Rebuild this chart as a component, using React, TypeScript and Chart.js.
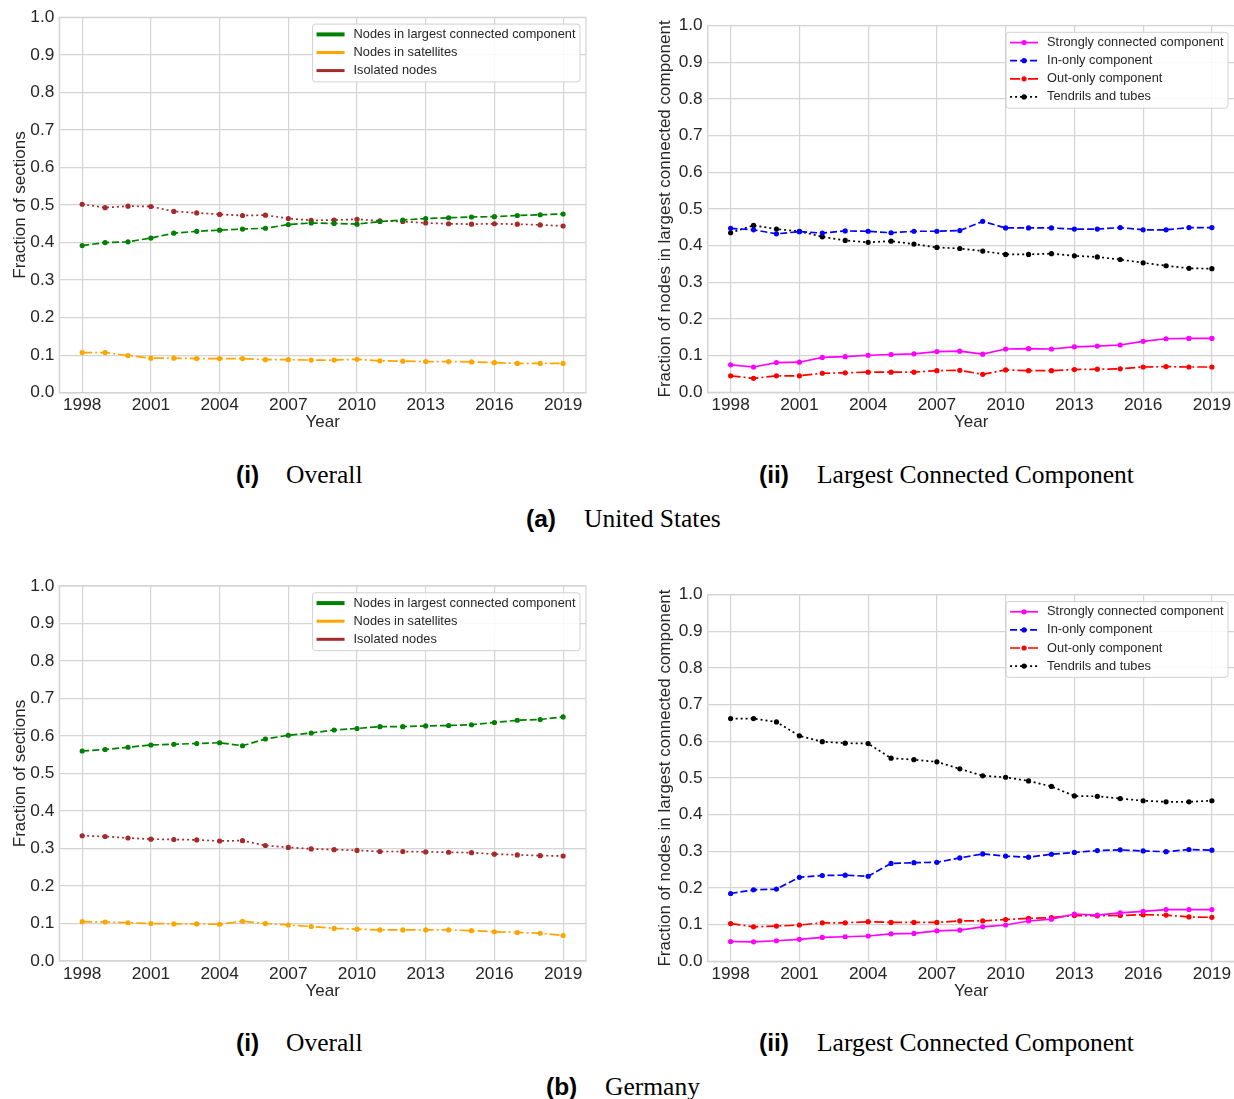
import React, { useEffect, useRef } from "react";
import { Chart, registerables } from "chart.js";

Chart.register(...registerables);

// ---------------- data ----------------
const years = [1998, 1999, 2000, 2001, 2002, 2003, 2004, 2005, 2006, 2007, 2008, 2009, 2010, 2011, 2012, 2013, 2014, 2015, 2016, 2017, 2018, 2019];
const xTickYears = [1998, 2001, 2004, 2007, 2010, 2013, 2016, 2019];
const yTickValues = [0, 0.1, 0.2, 0.3, 0.4, 0.5, 0.6, 0.7, 0.8, 0.9, 1.0];

const overallLabels = ["Nodes in largest connected component", "Nodes in satellites", "Isolated nodes"];
const lccLabels = ["Strongly connected component", "In-only component", "Out-only component", "Tendrils and tubes"];

// United States
const usLargestComponent = [0.392, 0.400, 0.402, 0.412, 0.425, 0.430, 0.433, 0.436, 0.438, 0.448, 0.452, 0.451, 0.449, 0.456, 0.460, 0.464, 0.466, 0.468, 0.469, 0.472, 0.474, 0.476];
const usSatellites = [0.107, 0.107, 0.099, 0.092, 0.092, 0.091, 0.091, 0.091, 0.088, 0.088, 0.087, 0.087, 0.089, 0.085, 0.084, 0.083, 0.083, 0.082, 0.080, 0.078, 0.078, 0.078];
const usIsolated = [0.502, 0.493, 0.497, 0.496, 0.483, 0.479, 0.475, 0.472, 0.473, 0.464, 0.459, 0.460, 0.462, 0.458, 0.456, 0.452, 0.450, 0.449, 0.450, 0.449, 0.447, 0.444];
const usStrong = [0.075, 0.069, 0.081, 0.082, 0.095, 0.097, 0.101, 0.103, 0.105, 0.111, 0.112, 0.104, 0.118, 0.119, 0.118, 0.124, 0.126, 0.129, 0.139, 0.146, 0.147, 0.147];
const usInOnly = [0.447, 0.443, 0.432, 0.438, 0.434, 0.440, 0.439, 0.435, 0.439, 0.439, 0.441, 0.466, 0.448, 0.448, 0.448, 0.445, 0.445, 0.449, 0.443, 0.443, 0.449, 0.449];
const usOutOnly = [0.045, 0.038, 0.045, 0.045, 0.052, 0.053, 0.055, 0.055, 0.055, 0.059, 0.060, 0.049, 0.061, 0.059, 0.059, 0.062, 0.063, 0.064, 0.069, 0.070, 0.069, 0.069];
const usTendrils = [0.435, 0.455, 0.445, 0.439, 0.424, 0.414, 0.409, 0.412, 0.404, 0.395, 0.392, 0.385, 0.376, 0.376, 0.378, 0.372, 0.369, 0.362, 0.353, 0.345, 0.338, 0.337];

// Germany
const deLargestComponent = [0.560, 0.564, 0.570, 0.576, 0.578, 0.580, 0.582, 0.574, 0.592, 0.602, 0.608, 0.616, 0.620, 0.625, 0.625, 0.627, 0.628, 0.630, 0.636, 0.642, 0.644, 0.651];
const deSatellites = [0.105, 0.104, 0.102, 0.100, 0.099, 0.099, 0.098, 0.106, 0.100, 0.096, 0.092, 0.087, 0.085, 0.083, 0.083, 0.083, 0.083, 0.081, 0.078, 0.076, 0.074, 0.068];
const deIsolated = [0.334, 0.332, 0.328, 0.325, 0.324, 0.323, 0.320, 0.321, 0.308, 0.303, 0.299, 0.297, 0.295, 0.292, 0.292, 0.291, 0.290, 0.289, 0.285, 0.283, 0.281, 0.280];
const deStrong = [0.054, 0.053, 0.056, 0.060, 0.065, 0.067, 0.069, 0.075, 0.076, 0.083, 0.085, 0.094, 0.099, 0.110, 0.115, 0.129, 0.126, 0.132, 0.136, 0.141, 0.141, 0.141];
const deInOnly = [0.185, 0.195, 0.197, 0.229, 0.234, 0.235, 0.232, 0.267, 0.269, 0.270, 0.282, 0.293, 0.287, 0.284, 0.292, 0.297, 0.302, 0.304, 0.301, 0.299, 0.305, 0.303];
const deOutOnly = [0.103, 0.094, 0.096, 0.099, 0.105, 0.105, 0.108, 0.106, 0.106, 0.106, 0.110, 0.110, 0.114, 0.117, 0.119, 0.125, 0.124, 0.125, 0.127, 0.126, 0.121, 0.120];
const deTendrils = [0.662, 0.662, 0.653, 0.615, 0.599, 0.595, 0.594, 0.554, 0.550, 0.544, 0.525, 0.506, 0.502, 0.492, 0.477, 0.451, 0.450, 0.444, 0.438, 0.435, 0.435, 0.438];

// ---------------- styles ----------------
const SANS = '"Liberation Sans", Arial, Helvetica, sans-serif';
const SERIF = '"Liberation Serif", "Times New Roman", Times, serif';
const TEXT = "#262626";
const GRID = "#d4d4d4";
const SOLID: number[] = [];
const DASHED = [7, 3];
const DASHDOT = [10, 3, 2, 3];
const DOTTED = [2, 3];

const overallStyle = [
  { color: "#008000", dash: DASHED, legendWidth: 4 },
  { color: "#ffa500", dash: DASHDOT, legendWidth: 3 },
  { color: "#a52a2a", dash: DOTTED, legendWidth: 3 },
];
const lccStyle = [
  { color: "#ff00ff", dash: SOLID },
  { color: "#0000ff", dash: DASHED },
  { color: "#ff0000", dash: DASHDOT },
  { color: "#000000", dash: DOTTED },
];

Chart.defaults.font.family = SANS;

const framePlugin = {
  id: "mplFrame",
  afterDatasetsDraw(chart: any) {
    const { ctx, chartArea } = chart;
    ctx.save();
    ctx.strokeStyle = GRID;
    ctx.lineWidth = 1.2;
    ctx.setLineDash([]);
    ctx.strokeRect(chartArea.left, chartArea.top, chartArea.right - chartArea.left, chartArea.bottom - chartArea.top);
    ctx.restore();
  },
};

const legendPlugin = {
  id: "mplLegend",
  afterDraw(chart: any, _args: any, opts: any) {
    const { ctx, chartArea } = chart;
    const datasets = chart.data.datasets;
    const fontSize = 12.8;
    ctx.save();
    ctx.font = `${fontSize}px ${SANS}`;
    let textW = 0;
    datasets.forEach((d: any) => {
      textW = Math.max(textW, ctx.measureText(d.label).width);
    });
    const rowH = 18.1;
    const boxW = 41 + textW + 4.5;
    const boxH = 10.3 + rowH * (datasets.length - 1) + 11.3;
    const right = chartArea.right - opts.rightGap;
    const left = right - boxW;
    const top = chartArea.top + 6.8;
    ctx.beginPath();
    if ((ctx as any).roundRect) (ctx as any).roundRect(left, top, boxW, boxH, 3);
    else ctx.rect(left, top, boxW, boxH);
    ctx.fillStyle = "rgba(255,255,255,0.85)";
    ctx.fill();
    ctx.strokeStyle = "rgba(204,204,204,0.9)";
    ctx.lineWidth = 1;
    ctx.stroke();
    datasets.forEach((d: any, i: number) => {
      const cy = top + 10.3 + rowH * i;
      ctx.save();
      ctx.strokeStyle = d.borderColor;
      if (opts.thick) {
        ctx.lineWidth = d.legendWidth;
        ctx.setLineDash([]);
      } else {
        ctx.lineWidth = d.borderWidth;
        ctx.setLineDash(d.borderDash || []);
      }
      ctx.beginPath();
      ctx.moveTo(left + 4, cy);
      ctx.lineTo(left + 32, cy);
      ctx.stroke();
      if (!opts.thick) {
        ctx.fillStyle = d.borderColor;
        ctx.beginPath();
        ctx.arc(left + 18, cy, d.pointRadius, 0, Math.PI * 2);
        ctx.fill();
      }
      ctx.restore();
      ctx.fillStyle = TEXT;
      ctx.textBaseline = "middle";
      ctx.textAlign = "left";
      ctx.fillText(d.label, left + 41, cy);
    });
    ctx.restore();
  },
};

type Area = { left: number; top: number; right: number; bottom: number };

function LinePanel(props: {
  x: number; y: number; w: number; h: number; area: Area;
  labels: string[]; series: number[][]; styles: any[];
  yTitle: string; yTitlePad: number; thickLegend: boolean; legendGap: number;
}) {
  const ref = useRef<HTMLCanvasElement>(null);
  useEffect(() => {
    const { w, h, area, labels, series, styles } = props;
    const datasets = series.map((vals, si) => ({
      label: labels[si],
      data: years.map((yr, i) => ({ x: yr, y: vals[i] })),
      borderColor: styles[si].color,
      backgroundColor: styles[si].color,
      pointBackgroundColor: styles[si].color,
      borderWidth: 1.7,
      borderDash: styles[si].dash,
      pointRadius: 2.6,
      pointBorderWidth: 0,
      pointHoverRadius: 2.6,
      tension: 0,
      fill: false,
      legendWidth: styles[si].legendWidth,
    }));
    const chart = new Chart(ref.current as HTMLCanvasElement, {
      type: "line",
      data: { datasets } as any,
      options: {
        animation: false,
        responsive: false,
        devicePixelRatio: 1,
        events: [],
        layout: { padding: { left: 0, top: area.top, right: w - area.right, bottom: 0 } },
        plugins: {
          legend: { display: false },
          tooltip: { enabled: false },
          mplLegend: { thick: props.thickLegend, rightGap: props.legendGap },
        } as any,
        scales: {
          x: {
            type: "linear",
            min: 1997,
            max: 2020,
            afterBuildTicks: (s: any) => { s.ticks = xTickYears.map((v) => ({ value: v })); },
            afterFit: (s: any) => { s.height = h - area.bottom; },
            ticks: { color: TEXT, font: { size: 17.3 }, padding: 2.5, maxRotation: 0, autoSkip: false, callback: (v: any) => String(v) },
            grid: { color: GRID, lineWidth: 1.2, drawTicks: false },
            border: { color: GRID, width: 1.2 },
            title: { display: true, text: "Year", color: TEXT, font: { size: 17 }, padding: { top: 0, bottom: 7.8 } },
          },
          y: {
            type: "linear",
            min: 0,
            max: 1,
            afterBuildTicks: (s: any) => { s.ticks = yTickValues.map((v) => ({ value: v })); },
            afterFit: (s: any) => { s.width = area.left; },
            ticks: { color: TEXT, font: { size: 17.3 }, padding: 5, callback: (v: any) => Number(v).toFixed(1) },
            grid: { color: GRID, lineWidth: 1.2, drawTicks: false },
            border: { color: GRID, width: 1.2 },
            title: { display: true, text: props.yTitle, color: TEXT, font: { size: 17 }, padding: { top: props.yTitlePad, bottom: 0 } },
          },
        },
      } as any,
      plugins: [framePlugin, legendPlugin],
    });
    return () => chart.destroy();
  }, []);
  return (
    <canvas
      ref={ref}
      width={props.w}
      height={props.h}
      style={{ position: "absolute", left: props.x, top: props.y, width: props.w, height: props.h }}
    />
  );
}

function Cap(props: { x: number; baseline: number; text: string; bold?: boolean }) {
  const size = props.bold ? 24.5 : 25.5;
  const top = props.baseline - (props.bold ? 20.7 : 21.4);
  return (
    <div
      style={{
        position: "absolute",
        left: props.x,
        top,
        fontFamily: props.bold ? SANS : SERIF,
        fontWeight: props.bold ? 700 : 400,
        fontSize: size,
        lineHeight: 1,
        whiteSpace: "nowrap",
        color: "#000",
      }}
    >
      {props.text}
    </div>
  );
}

export default function App() {
  const areaI = { left: 59.3, top: 17.3, right: 586, bottom: 392.7 };
  const areaII = { left: 67.7, top: 25.5, right: 594.8, bottom: 392.3 };
  const areaI2 = { left: 59.3, top: 17, right: 586, bottom: 392 };
  const areaII2 = { left: 67.7, top: 25.7, right: 594.8, bottom: 392.3 };
  const yTitleI = "Fraction of sections";
  const yTitleII = "Fraction of nodes in largest connected component";
  return (
    <div style={{ position: "absolute", left: 0, top: 0, width: 1234, height: 1099, overflow: "hidden", background: "#fff" }}>
      <LinePanel x={0} y={0} w={600} h={440} area={areaI} labels={overallLabels}
        series={[usLargestComponent, usSatellites, usIsolated]} styles={overallStyle}
        yTitle={yTitleI} yTitlePad={10.5} thickLegend={true} legendGap={6} />
      <LinePanel x={640} y={0} w={600} h={440} area={areaII} labels={lccLabels}
        series={[usStrong, usInOnly, usOutOnly, usTendrils]} styles={lccStyle}
        yTitle={yTitleII} yTitlePad={15} thickLegend={false} legendGap={6.8} />
      <LinePanel x={0} y={569} w={600} h={440} area={areaI2} labels={overallLabels}
        series={[deLargestComponent, deSatellites, deIsolated]} styles={overallStyle}
        yTitle={yTitleI} yTitlePad={10.5} thickLegend={true} legendGap={6} />
      <LinePanel x={640} y={569} w={600} h={440} area={areaII2} labels={lccLabels}
        series={[deStrong, deInOnly, deOutOnly, deTendrils]} styles={lccStyle}
        yTitle={yTitleII} yTitlePad={15} thickLegend={false} legendGap={6.8} />

      <Cap x={236} baseline={483.5} text="(i)" bold />
      <Cap x={286} baseline={483.5} text="Overall" />
      <Cap x={759} baseline={483.5} text="(ii)" bold />
      <Cap x={817} baseline={483.5} text="Largest Connected Component" />
      <Cap x={526} baseline={527.5} text="(a)" bold />
      <Cap x={584} baseline={527.5} text="United States" />

      <Cap x={236} baseline={1051.5} text="(i)" bold />
      <Cap x={286} baseline={1051.5} text="Overall" />
      <Cap x={759} baseline={1051.5} text="(ii)" bold />
      <Cap x={817} baseline={1051.5} text="Largest Connected Component" />
      <Cap x={546} baseline={1095.5} text="(b)" bold />
      <Cap x={605} baseline={1095.5} text="Germany" />
    </div>
  );
}
